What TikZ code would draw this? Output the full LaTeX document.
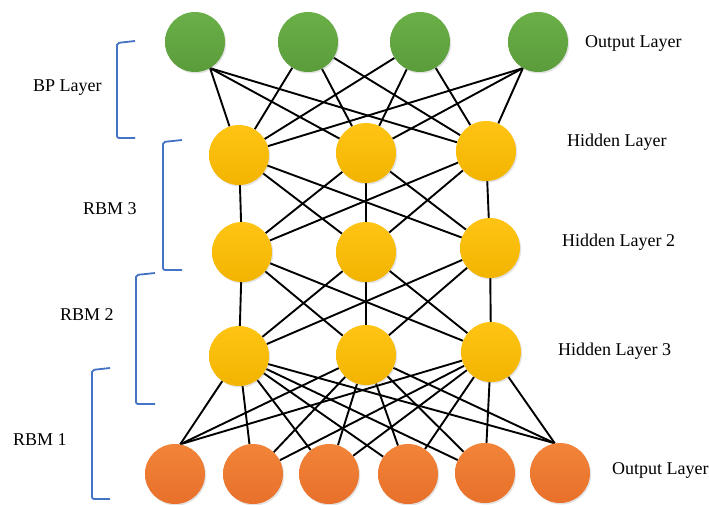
\documentclass[tikz,border=0pt]{standalone}
\usepackage{fontspec}
\setmainfont{Liberation Serif}
\usetikzlibrary{backgrounds,shadows}

\definecolor{bpgreen}{HTML}{6AAF48}
\definecolor{bpgreenD}{HTML}{5A9C3A}
\definecolor{hidyel}{HTML}{FFC414}
\definecolor{hidyelD}{HTML}{F2B400}
\definecolor{visor}{HTML}{F28439}
\definecolor{visorD}{HTML}{E8702A}
\definecolor{brace}{HTML}{4472C4}

\tikzset{
  unit/.style={circle, minimum size=60pt, inner sep=0pt, draw=none,
    drop shadow={shadow xshift=1.2pt, shadow yshift=-1.5pt, opacity=0.22}},
  outunit/.style={unit, top color=bpgreen, bottom color=bpgreenD},
  hidunit/.style={unit, top color=hidyel, bottom color=hidyelD},
  visunit/.style={unit, top color=visor, bottom color=visorD},
  wire/.style={draw=black, line width=1.9pt},
  layername/.style={anchor=west, inner sep=0pt, font=\fontsize{18}{21}\selectfont},
  bracket/.style={draw=brace, line width=1.8pt, rounded corners=2pt}
}

\begin{document}
\begin{tikzpicture}[x=1pt, y=-1pt]
\useasboundingbox (0,0) rectangle (709,504);

% output layer (top)
\node[outunit] (g1) at (195,42) {};
\node[outunit] (g2) at (308,42) {};
\node[outunit] (g3) at (420,42) {};
\node[outunit] (g4) at (538,42) {};

% hidden layers
\node[hidunit] (a1) at (239,155) {};
\node[hidunit] (a2) at (366,153) {};
\node[hidunit] (a3) at (486,151) {};

\node[hidunit] (b1) at (242,252) {};
\node[hidunit] (b2) at (366,252) {};
\node[hidunit] (b3) at (490,248) {};

\node[hidunit] (c1) at (239,356) {};
\node[hidunit] (c2) at (366,355) {};
\node[hidunit] (c3) at (491,352) {};

% bottom layer
\node[visunit] (v1) at (175,474) {};
\node[visunit] (v2) at (253,474) {};
\node[visunit] (v3) at (329,474) {};
\node[visunit] (v4) at (408,474) {};
\node[visunit] (v5) at (485,473) {};
\node[visunit] (v6) at (560,473) {};

% full connections between neighbouring layers
% (the outer units gather their wires at one point of the rim)
\begin{scope}[on background layer]
  \foreach \p in {g1.-60,g2,g3,g4.-120}
    \foreach \w in {a1,a2,a3}
      \draw[wire] (\p) -- (\w);
  \foreach \u in {a1,a2,a3}
    \foreach \w in {b1,b2,b3}
      \draw[wire] (\u) -- (\w);
  \foreach \u in {b1,b2,b3}
    \foreach \w in {c1,c2,c3}
      \draw[wire] (\u) -- (\w);
  \foreach \u in {c1,c2,c3}
    \foreach \q in {v1.80,v2,v3,v4,v5,v6.100}
      \draw[wire] (\u) -- (\q);
\end{scope}

% layer names
\node[layername] (tOut)  at (585,43)  {Output Layer};
\node[layername] (tH1)   at (567,142) {Hidden Layer};
\node[layername] (tH2)   at (562,242) {Hidden Layer 2};
\node[layername] (tH3)   at (558,351) {Hidden Layer 3};
\node[layername] (tVis)  at (612,470) {Output Layer};

% stage names and brackets
\node[layername] (tBP)   at (33,88)  {BP Layer};
\node[layername] (tR3)   at (83,209) {RBM 3};
\node[layername] (tR2)   at (60,315) {RBM 2};
\node[layername] (tR1)   at (13,440) {RBM 1};

\draw[bracket] (135,41)  -- (117,43)  -- (117,138) -- (135,138);
\draw[bracket] (182,140) -- (163,142) -- (163,270) -- (182,270);
\draw[bracket] (155,273) -- (136,275) -- (136,404) -- (155,404);
\draw[bracket] (110,368) -- (92,370)  -- (92,499)  -- (110,499);
\end{tikzpicture}
\end{document}
